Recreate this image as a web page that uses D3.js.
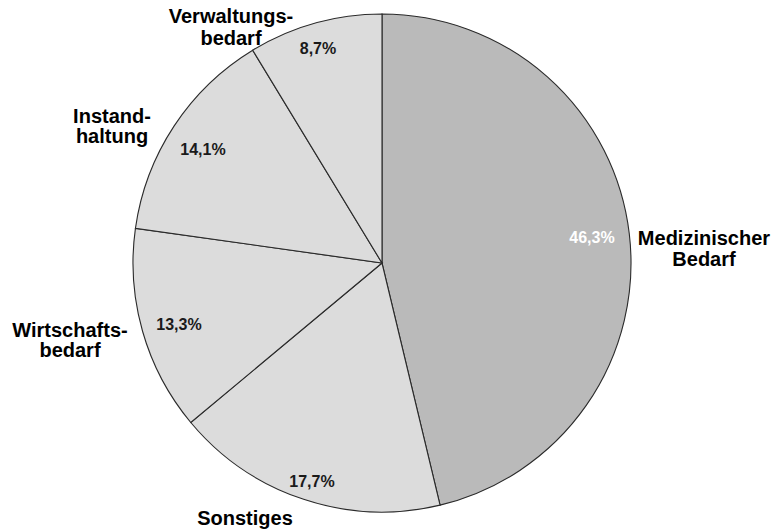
<!DOCTYPE html>
<html><head><meta charset="utf-8">
<script src="https://cdn.jsdelivr.net/npm/d3@7"></script>
<style>body{margin:0;background:#fff}svg{display:block}</style>
</head><body>
<script>
const categories = ["Medizinischer Bedarf", "Sonstiges", "Wirtschaftsbedarf", "Instandhaltung", "Verwaltungsbedarf"];
const values = [46.3, 17.7, 13.3, 14.1, 8.7];
const valueLabels = ["46,3%", "17,7%", "13,3%", "14,1%", "8,7%"];
const nameLines = [["Medizinischer", "Bedarf"], ["Sonstiges"], ["Wirtschafts-", "bedarf"], ["Instand-", "haltung"], ["Verwaltungs-", "bedarf"]];

// layout (not data)
const W = 776, H = 531, cx = 382, cy = 263, R = 249;
const fills = ["#bababa", "#dcdcdc", "#dcdcdc", "#dcdcdc", "#dcdcdc"];
const pctPos = [[592, 243], [312, 487], [179, 330], [203, 155], [318, 54]];
const pctColor = ["#ffffff", "#1a1a1a", "#1a1a1a", "#1a1a1a", "#1a1a1a"];
const namePos = [[704, 245], [245, 525], [70, 337], [112, 123], [231, 23]];
const lineGap = [21, 0, 20, 20, 22];

const svg = d3.select("body").append("svg").attr("width", W).attr("height", H);
const pie = d3.pie().sort(null).value(d => d)(values);
const arc = d3.arc().innerRadius(0).outerRadius(R);
const g = svg.append("g").attr("transform", `translate(${cx},${cy})`);
g.selectAll("path").data(pie).join("path")
  .attr("d", arc)
  .attr("fill", (d, i) => fills[i])
  .attr("stroke", "#2a2a2a").attr("stroke-width", 1.1);

svg.selectAll("text.pct").data(valueLabels).join("text").attr("class", "pct")
  .attr("x", (d, i) => pctPos[i][0]).attr("y", (d, i) => pctPos[i][1])
  .attr("text-anchor", "middle")
  .attr("font-family", "Liberation Sans, Arial, sans-serif")
  .attr("font-weight", "bold").attr("font-size", 16)
  .attr("fill", (d, i) => pctColor[i])
  .text(d => d);

nameLines.forEach((lines, i) => {
  const t = svg.append("text")
    .attr("text-anchor", "middle")
    .attr("font-family", "Liberation Sans, Arial, sans-serif")
    .attr("font-weight", "bold").attr("font-size", 20)
    .attr("fill", "#000");
  lines.forEach((l, j) => {
    t.append("tspan").attr("x", namePos[i][0]).attr("y", namePos[i][1] + j * lineGap[i]).text(l);
  });
});
</script>
</body></html>
